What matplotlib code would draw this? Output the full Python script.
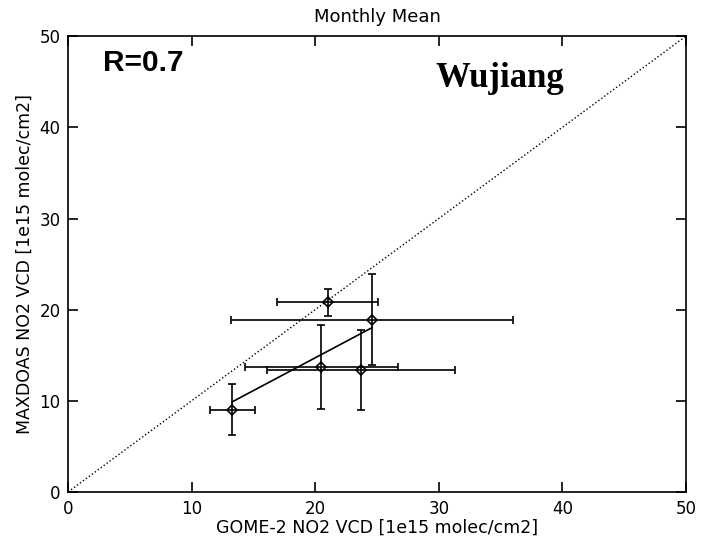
import numpy as np
import matplotlib
matplotlib.use('Agg')
import matplotlib.pyplot as plt

# monthly mean values
gome = [13.3, 21.0, 24.6, 20.5, 23.7]
gome_err = [1.8, 4.1, 11.4, 6.2, 7.6]
maxdoas = [9.0, 20.8, 18.9, 13.7, 13.4]
maxdoas_err = [2.8, 1.5, 5.0, 4.6, 4.4]
ticks = [0, 10, 20, 30, 40, 50]

fig = plt.figure(figsize=(7.02, 5.49), dpi=100)
ax = fig.add_axes([0.097, 0.104, 0.880, 0.830])

# 1:1 line
ax.plot([0, 50], [0, 50], color='k', linestyle=':', linewidth=1.0)

ax.errorbar(gome, maxdoas, xerr=gome_err, yerr=maxdoas_err, fmt='D',
            color='k', mfc='none', mec='k', ms=5.5, mew=1.2,
            elinewidth=1.2, capsize=2.6, capthick=1.2)

# linear fit through the points
slope, icpt = np.polyfit(gome, maxdoas, 1)
xf = np.array([min(gome), max(gome)])
ax.plot(xf, slope * xf + icpt, color='k', linewidth=1.2)

ax.set_xlim(0, 50)
ax.set_ylim(0, 50)
ax.set_xticks(ticks)
ax.set_yticks(ticks)
ax.tick_params(direction='in', length=7, width=1.2, top=True, right=True,
               labelsize=12, pad=5.5)
for s in ax.spines.values():
    s.set_linewidth(1.2)

ax.set_title('Monthly Mean', fontsize=13, pad=10)
ax.set_xlabel('GOME-2 NO2 VCD [1e15 molec/cm2]', fontsize=12.5, labelpad=1)
ax.set_ylabel('MAXDOAS NO2 VCD [1e15 molec/cm2]', fontsize=12.5, labelpad=4)

ax.text(0.056, 0.923, 'R=0.7', transform=ax.transAxes, fontsize=21.5,
        fontweight='bold', family='Liberation Sans', va='baseline')
ax.text(0.594, 0.889, 'Wujiang', transform=ax.transAxes, fontsize=25,
        fontweight='bold', family='Liberation Serif', va='baseline')

fig.savefig('out.png', dpi=100)
